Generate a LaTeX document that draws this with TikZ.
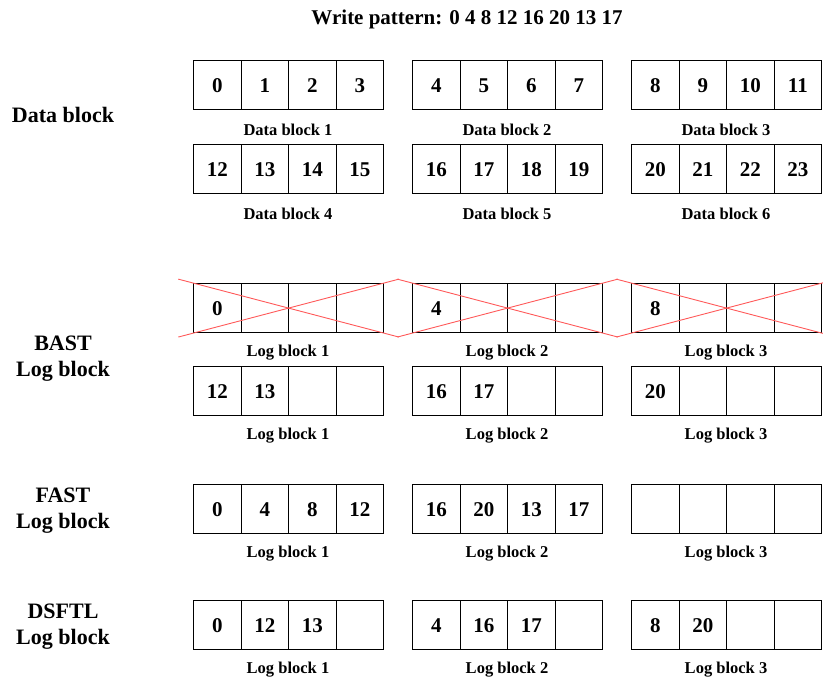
\documentclass[tikz,border=0pt]{standalone}
\usepackage{fontspec}
\setmainfont{Liberation Serif}
\usetikzlibrary{calc}
\begin{document}
\begin{tikzpicture}[x=1pt,y=1pt,
  cell/.style={draw, line width=1.2pt, minimum width=47.5pt, minimum height=49pt,
    inner sep=0pt, anchor=north west, text height=14.5pt, text depth=0pt,
    font=\fontsize{21}{24}\selectfont\bfseries},
  blkcap/.style={font=\fontsize{16.5}{18}\selectfont\bfseries, inner sep=0pt},
  side/.style={font=\fontsize{22}{26}\selectfont\bfseries, align=center, inner sep=0pt},
  titletext/.style={font=\fontsize{21}{24}\selectfont\bfseries, inner sep=0pt},
  redcross/.style={draw=red!65, line width=0.9pt}]
\useasboundingbox (0,0) rectangle (823,-679);
\newcommand{\blk}[8]{%
  \node[cell] (#1-1) at (#2,-#3) {#4};
  \node[cell] (#1-2) at (#2+47.5,-#3) {#5};
  \node[cell] (#1-3) at (#2+95,-#3) {#6};
  \node[cell] (#1-4) at (#2+142.5,-#3) {#7};
  \node[blkcap] (#1-cap) at (#2+95,-#3-70) {#8};
}
% title
\node[titletext] (title) at (467,-19) {Write pattern: 0 4 8 12 16 20 13 17};
% side labels
\node[side] (sdata) at (63,-115) {Data block};
\node[side] (sbast) at (63,-359) {BAST\\Log block};
\node[side] (sfast) at (63,-511) {FAST\\Log block};
\node[side] (sdsftl) at (63,-627) {DSFTL\\Log block};
% data blocks
\blk{A1}{193}{60}{0}{1}{2}{3}{Data block 1}
\blk{A2}{412}{60}{4}{5}{6}{7}{Data block 2}
\blk{A3}{631}{60}{8}{9}{10}{11}{Data block 3}
\blk{B1}{193}{144}{12}{13}{14}{15}{Data block 4}
\blk{B2}{412}{144}{16}{17}{18}{19}{Data block 5}
\blk{B3}{631}{144}{20}{21}{22}{23}{Data block 6}
% BAST
\blk{C1}{193}{283}{0}{}{}{}{Log block 1}
\blk{C2}{412}{283}{4}{}{}{}{Log block 2}
\blk{C3}{631}{283}{8}{}{}{}{Log block 3}
\blk{D1}{193}{366}{12}{13}{}{}{Log block 1}
\blk{D2}{412}{366}{16}{17}{}{}{Log block 2}
\blk{D3}{631}{366}{20}{}{}{}{Log block 3}
% FAST
\blk{E1}{193}{484}{0}{4}{8}{12}{Log block 1}
\blk{E2}{412}{484}{16}{20}{13}{17}{Log block 2}
\blk{E3}{631}{484}{}{}{}{}{Log block 3}
% DSFTL
\blk{F1}{193}{600}{0}{12}{13}{}{Log block 1}
\blk{F2}{412}{600}{4}{16}{17}{}{Log block 2}
\blk{F3}{631}{600}{8}{20}{}{}{Log block 3}
% red crosses
\foreach \b in {C1,C2,C3}{
  \draw[redcross] ($(\b-1.north west)!-0.077!(\b-4.south east)$) -- ($(\b-4.south east)!-0.077!(\b-1.north west)$);
  \draw[redcross] ($(\b-1.south west)!-0.077!(\b-4.north east)$) -- ($(\b-4.north east)!-0.077!(\b-1.south west)$);
}
\end{tikzpicture}
\end{document}
